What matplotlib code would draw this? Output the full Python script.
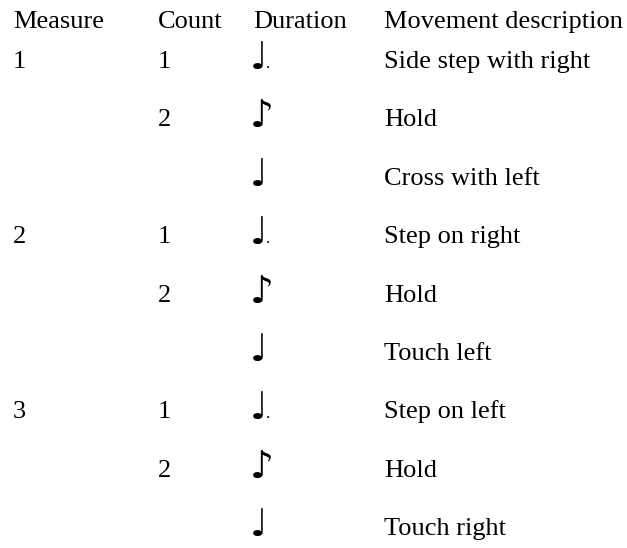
import matplotlib
matplotlib.use('Agg')
import matplotlib.pyplot as plt

# ── Data ──────────────────────────────────────────────────────────────────────
headers      = ['Measure', 'Count', 'Duration', 'Movement description']
measures     = ['1', '', '', '2', '', '', '3', '', '']
counts       = ['1', '2', '', '1', '2', '', '1', '2', '']
durations    = ['\u2669.', '\u266A', '\u2669', '\u2669.', '\u266A', '\u2669', '\u2669.', '\u266A', '\u2669']
descriptions = ['Side step with right', 'Hold', 'Cross with left',
                'Step on right', 'Hold', 'Touch left',
                'Step on left', 'Hold', 'Touch right']

# ── Layout (pixels) ───────────────────────────────────────────────────────────
W, H       = 627, 548
COL_X      = [13, 158, 253, 384]
HEADER_Y   = 28
ROW0_Y     = 68
ROW_STEP   = 58.4
FONT       = ['Liberation Serif', 'DejaVu Sans']
FS         = 19
NOTE_FS    = 27

fig = plt.figure(figsize=(W / 100, H / 100), dpi=100)
ax = fig.add_axes([0, 0, 1, 1])
ax.set_xlim(0, W)
ax.set_ylim(H, 0)
ax.axis('off')

for x, h in zip(COL_X, headers):
    ax.text(x, HEADER_Y, h, fontsize=FS, family=FONT, va='baseline', ha='left')

for i, (m, c, d, desc) in enumerate(zip(measures, counts, durations, descriptions)):
    y = ROW0_Y + i * ROW_STEP
    if m:
        ax.text(COL_X[0], y, m, fontsize=FS, family=FONT, va='baseline')
    if c:
        ax.text(COL_X[1], y, c, fontsize=FS, family=FONT, va='baseline')
    # note glyph, with a separate augmentation dot for dotted notes
    ax.text(COL_X[2] - 3, y + 1, d[0], fontsize=NOTE_FS, family='DejaVu Sans',
            va='baseline', ha='left')
    if d.endswith('.'):
        ax.text(COL_X[2] + 13, y, '.', fontsize=12, family=FONT, va='baseline')
    ax.text(COL_X[3], y, desc, fontsize=FS, family=FONT, va='baseline')

fig.savefig('out.png', dpi=100)
plt.close(fig)
